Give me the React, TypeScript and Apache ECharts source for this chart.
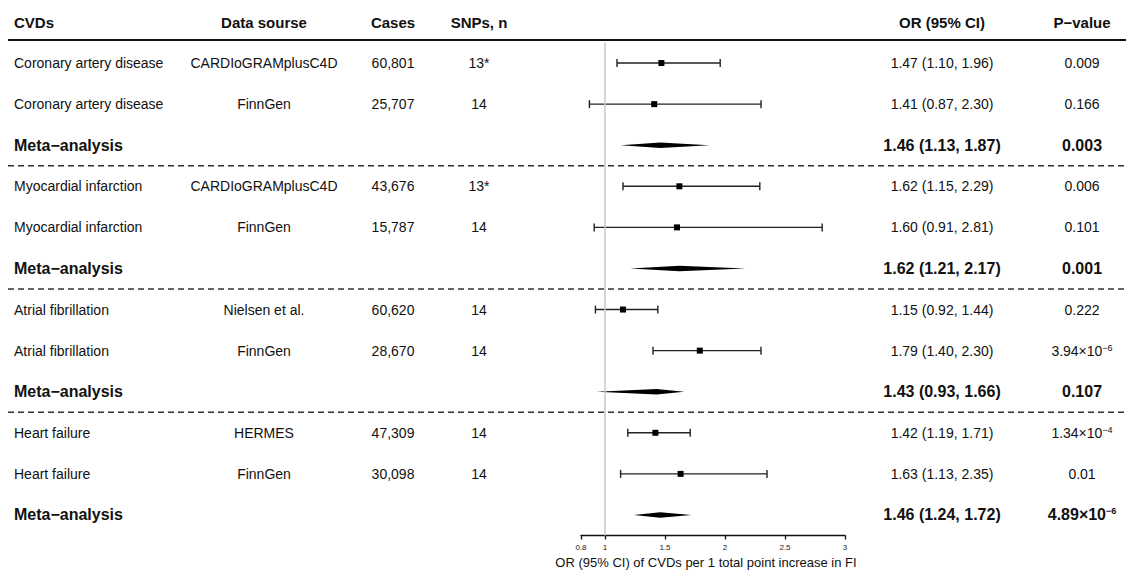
import React, { useEffect, useRef } from "react";
import * as echarts from "echarts";

// ---- data ----
const cvds = [
  "Coronary artery disease", "Coronary artery disease", "Meta−analysis",
  "Myocardial infarction", "Myocardial infarction", "Meta−analysis",
  "Atrial fibrillation", "Atrial fibrillation", "Meta−analysis",
  "Heart failure", "Heart failure", "Meta−analysis",
];
const sources = [
  "CARDIoGRAMplusC4D", "FinnGen", "",
  "CARDIoGRAMplusC4D", "FinnGen", "",
  "Nielsen et al.", "FinnGen", "",
  "HERMES", "FinnGen", "",
];
const cases = [
  "60,801", "25,707", "",
  "43,676", "15,787", "",
  "60,620", "28,670", "",
  "47,309", "30,098", "",
];
const snps = ["13*", "14", "", "13*", "14", "", "14", "14", "", "14", "14", ""];
const orValues = [1.47, 1.41, 1.46, 1.62, 1.60, 1.62, 1.15, 1.79, 1.43, 1.42, 1.63, 1.46];
const lowerCI = [1.10, 0.87, 1.13, 1.15, 0.91, 1.21, 0.92, 1.40, 0.93, 1.19, 1.13, 1.24];
const upperCI = [1.96, 2.30, 1.87, 2.29, 2.81, 2.17, 1.44, 2.30, 1.66, 1.71, 2.35, 1.72];
const pValues = [
  "0.009", "0.166", "0.003",
  "0.006", "0.101", "0.001",
  "0.222", "3.94e-6", "0.107",
  "1.34e-4", "0.01", "4.89e-6",
];
const isMeta = [0, 0, 1, 0, 0, 1, 0, 0, 1, 0, 0, 1];
const headers = ["CVDs", "Data sourse", "Cases", "SNPs, n", "OR (95% CI)", "P−value"];
const xTicks = [0.8, 1, 1.5, 2, 2.5, 3];
const xTitle = "OR (95% CI) of CVDs per 1 total point increase in FI";

// ---- layout ----
const W = 1126;
const H = 577;
const COL_X = [14, 264, 393, 479, 942, 1082];
const FONT = "'Liberation Sans', Arial, Helvetica, sans-serif";
const TXT = "#111";

function pText(p: string) {
  if (p.includes("e")) {
    const [m, e] = p.split("e");
    return `${m}×10{sup|${e.replace("-", "−")}}`;
  }
  return p;
}

export default function App() {
  const ref = useRef<HTMLDivElement>(null);
  useEffect(() => {
    document.body.style.margin = "0";
    const chart = echarts.init(ref.current!, null, { renderer: "svg" });
    const n = cvds.length;

    const tableData = cvds.map((_, i) => [0.8, i]);
    const ciData = orValues.map((v, i) => [v, i, lowerCI[i], upperCI[i], isMeta[i]]);

    const option: any = {
      animation: false,
      backgroundColor: "#fff",
      grid: {
        left: 581, right: W - 845, top: 42.5, bottom: H - 535.5,
        outerBoundsMode: "none", containLabel: false,
      },
      xAxis: {
        type: "value", min: 0.8, max: 3,
        splitLine: { show: false },
        axisLine: { show: true, onZero: false, lineStyle: { color: "#111", width: 1.3 } },
        axisTick: { show: true, length: 4, customValues: xTicks, lineStyle: { color: "#111", width: 1.3 } },
        axisLabel: {
          customValues: xTicks, fontSize: 8, color: "#222", margin: 8, fontFamily: FONT,
          formatter: (v: number) => String(v),
        },
        name: xTitle, nameLocation: "middle", nameGap: 19,
        nameTextStyle: { fontSize: 13, color: TXT, fontFamily: FONT, padding: [0, 14, 0, 0] },
      },
      yAxis: { type: "value", min: -0.5, max: n - 0.5, inverse: true, show: false },
      graphic: [
        {
          type: "line", shape: { x1: 8, y1: 40, x2: W, y2: 40 },
          style: { stroke: "#111", lineWidth: 2 }, z: 10,
        },
        ...headers.map((h, k) => ({
          type: "text", x: COL_X[k], y: 22,
          style: {
            text: h, fill: TXT, font: `bold 15px ${FONT}`,
            textAlign: k === 0 ? "left" : "center", textVerticalAlign: "middle",
          },
        })),
      ],
      series: [
        {
          type: "custom", name: "table", clip: false, silent: true,
          data: tableData,
          renderItem: (params: any, api: any) => {
            const i = params.dataIndex;
            const y = api.coord([0.8, i])[1];
            const meta = isMeta[i] === 1;
            const font = meta ? `bold 16px ${FONT}` : `14px ${FONT}`;
            const orStr = `${orValues[i].toFixed(2)} (${lowerCI[i].toFixed(2)}, ${upperCI[i].toFixed(2)})`;
            const texts = [cvds[i], sources[i], cases[i], snps[i], orStr];
            const children: any[] = texts.map((t, k) => ({
              type: "text", x: COL_X[k], y,
              style: { text: t, fill: TXT, font, align: k === 0 ? "left" : "center", verticalAlign: "middle" },
            }));
            children.push({
              type: "text", x: COL_X[5], y,
              style: {
                text: pText(pValues[i]), fill: TXT, font,
                align: "center", verticalAlign: "middle",
                rich: { sup: { fontSize: 9, fontWeight: meta ? "bold" : "normal", verticalAlign: "top", fontFamily: FONT, fill: TXT } },
              },
            });
            if (meta && i < n - 1) {
              const ys = api.coord([0.8, i + 0.5])[1];
              children.push({
                type: "line", shape: { x1: 8, y1: ys, x2: W, y2: ys },
                style: { stroke: "#333", lineWidth: 1.5, lineDash: [6, 4] },
              });
            }
            return { type: "group", children };
          },
          z: 3,
        },
        {
          type: "custom", name: "ci", clip: false, silent: true,
          data: ciData,
          renderItem: (params: any, api: any) => {
            const i = api.value(1);
            const [xo, y] = api.coord([api.value(0), i]);
            const xl = api.coord([api.value(2), i])[0];
            const xh = api.coord([api.value(3), i])[0];
            if (api.value(4) === 1) {
              return {
                type: "polygon",
                shape: { points: [[xl, y], [xo, y - 2.7], [xh, y], [xo, y + 2.7]] },
                style: { fill: "#000" },
              };
            }
            const ls = { stroke: "#222", lineWidth: 1.4 };
            return {
              type: "group",
              children: [
                { type: "line", shape: { x1: xl, y1: y, x2: xh, y2: y }, style: ls },
                { type: "line", shape: { x1: xl, y1: y - 4, x2: xl, y2: y + 4 }, style: ls },
                { type: "line", shape: { x1: xh, y1: y - 4, x2: xh, y2: y + 4 }, style: ls },
                { type: "rect", shape: { x: xo - 3, y: y - 3, width: 6, height: 6 }, style: { fill: "#000" } },
              ],
            };
          },
          markLine: {
            silent: true, symbol: "none", label: { show: false },
            lineStyle: { color: "#c8c8c8", width: 1.5, type: "solid" },
            data: [{ xAxis: 1 }],
          },
          z: 4,
        },
      ],
    };
    chart.setOption(option);
    return () => chart.dispose();
  }, []);
  return <div ref={ref} style={{ width: W, height: H }} />;
}
